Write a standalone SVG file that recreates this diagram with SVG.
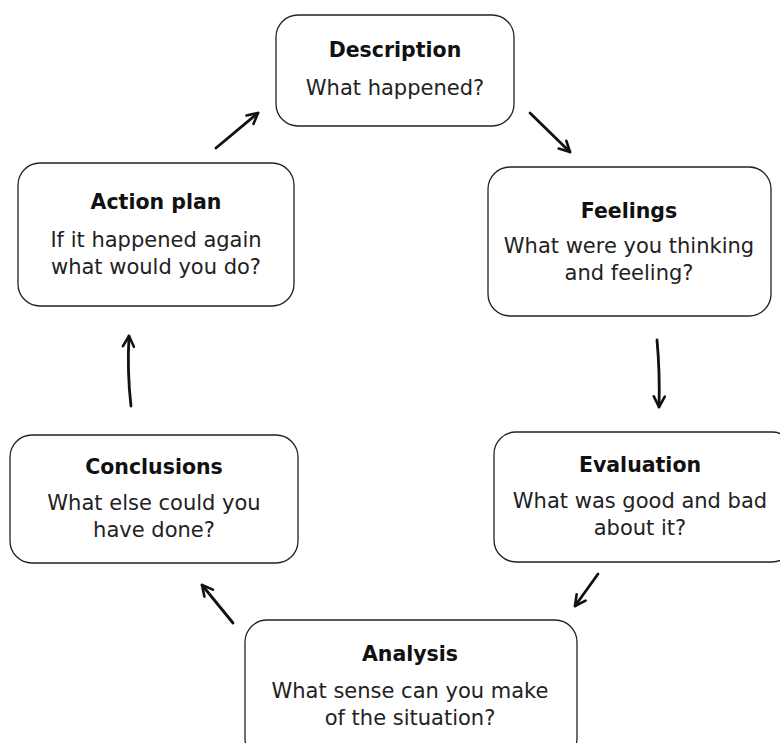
<svg xmlns="http://www.w3.org/2000/svg" width="780" height="743" viewBox="0 0 780 743">
<defs>
<style>
.box{fill:#fff;stroke:#222;stroke-width:1.3}
.t{font-family:"DejaVu Sans",Verdana,sans-serif;font-size:20.5px;font-weight:bold;fill:#111;text-anchor:middle}
.b{font-family:"DejaVu Sans",Verdana,sans-serif;font-size:21px;fill:#222;text-anchor:middle}
.c{fill:none;stroke:#111;stroke-width:2.8;stroke-linecap:round;stroke-linejoin:round}
</style>
<marker id="ah" viewBox="0 0 14 14" refX="12" refY="7" markerWidth="14" markerHeight="14" markerUnits="userSpaceOnUse" orient="auto">
<path d="M1.5,1.5 L12,7 L1.5,12.5" fill="none" stroke="#111" stroke-width="2.6" stroke-linecap="round" stroke-linejoin="round"/>
</marker>
</defs>
<rect width="780" height="743" fill="#fff"/>
<g id="description"><rect class="box" x="276" y="15" width="238" height="111" rx="22"/>
<text class="t" x="395" y="57">Description</text><text class="b" x="395" y="95">What happened?</text></g>
<g id="feelings"><rect class="box" x="488" y="167" width="283" height="149" rx="22"/>
<text class="t" x="629" y="218">Feelings</text><text class="b" x="629" y="253">What were you thinking</text><text class="b" x="629" y="280">and feeling?</text></g>
<g id="evaluation"><rect class="box" x="494" y="432" width="300" height="130" rx="22"/>
<text class="t" x="640" y="472">Evaluation</text><text class="b" x="640" y="508">What was good and bad</text><text class="b" x="640" y="535">about it?</text></g>
<g id="analysis"><rect class="box" x="245" y="620" width="332" height="140" rx="22"/>
<text class="t" x="410" y="661">Analysis</text><text class="b" x="410" y="698">What sense can you make</text><text class="b" x="410" y="725">of the situation?</text></g>
<g id="conclusions"><rect class="box" x="10" y="435" width="288" height="128" rx="22"/>
<text class="t" x="154" y="474">Conclusions</text><text class="b" x="154" y="510">What else could you</text><text class="b" x="154" y="537">have done?</text></g>
<g id="action-plan"><rect class="box" x="18" y="163" width="276" height="143" rx="22"/>
<text class="t" x="156" y="209">Action plan</text><text class="b" x="156" y="247">If it happened again</text><text class="b" x="156" y="274">what would you do?</text></g>
<g id="connectors">
<path class="c" d="M216,148 L258,113" marker-end="url(#ah)"/>
<path class="c" d="M530,113 L570,152" marker-end="url(#ah)"/>
<path class="c" d="M657,340 Q660,372 659,407" marker-end="url(#ah)"/>
<path class="c" d="M598,574 L575,606" marker-end="url(#ah)"/>
<path class="c" d="M233,623 L202,585" marker-end="url(#ah)"/>
<path class="c" d="M131,406 Q127,372 129,336" marker-end="url(#ah)"/>
</g>
</svg>
